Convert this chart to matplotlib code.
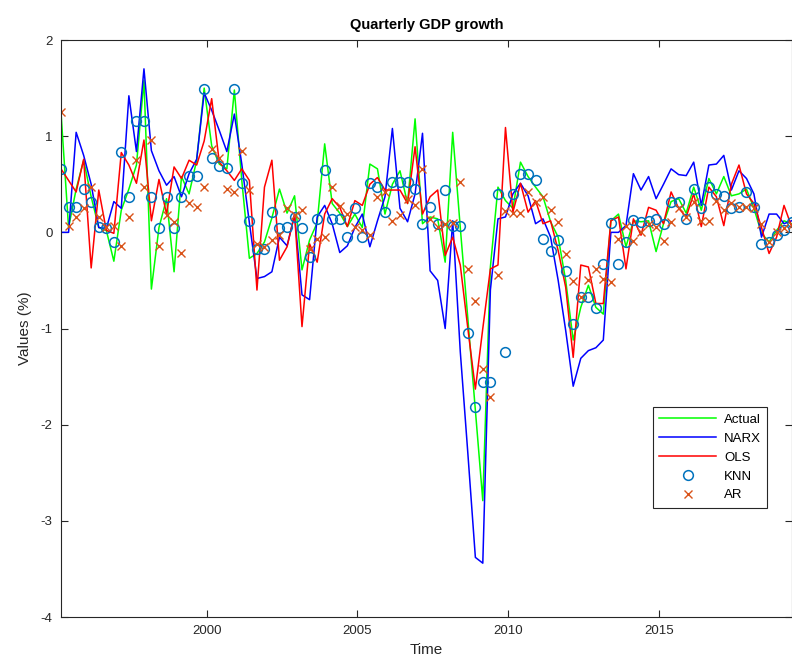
import numpy as np
import pandas as pd
import matplotlib
matplotlib.use("Agg")
import matplotlib.pyplot as plt
import matplotlib.dates as mdates

plt.rcParams['font.family'] = ['Liberation Sans', 'DejaVu Sans']
plt.rcParams['axes.unicode_minus'] = False

# quarterly dates (98 quarters)
dates = pd.date_range('1995-03-01', periods=98, freq='QS-MAR')

actual = [
    1.25, 0.05, 0.45, 0.75, 0.37, 0.05, 0.02, -0.30, 0.23, 0.45,
    0.70, 1.58, -0.59, 0.05, 0.35, -0.41, 0.58, 0.40, 0.75, 1.50,
    0.90, 0.71, 0.66, 1.48, 0.54, -0.27, -0.22, -0.10, 0.15, 0.45,
    0.20, 0.38, -0.39, -0.08, 0.10, 0.92, 0.30, 0.20, 0.06, 0.19,
    0.05, 0.71, 0.66, 0.19, 0.50, 0.64, 0.30, 1.18, 0.09, 0.16,
    0.14, -0.31, 1.04, 0.05, -0.90, -1.85, -2.79, -0.36, 0.47, 0.33,
    0.25, 0.73, 0.58, 0.47, 0.37, 0.11, -0.05, -0.50, -1.12, -0.78,
    -0.55, -0.78, -0.85, 0.12, 0.19, -0.15, 0.12, 0.11, 0.12, -0.20,
    0.09, 0.32, 0.35, 0.20, 0.47, 0.23, 0.56, 0.40, 0.58, 0.38,
    0.40, 0.45, 0.25, -0.01, -0.10, 0.02, 0.12, 0.09]

narx = [
    0.00, 0.00, 1.04, 0.80, 0.50, 0.05, 0.04, 0.32, 0.25, 1.42,
    0.84, 1.70, 0.85, 0.64, 0.49, 0.58, 0.37, 0.61, 0.76, 1.45,
    1.27, 1.06, 0.84, 1.23, 0.71, 0.10, -0.48, -0.46, -0.41, -0.05,
    -0.14, 0.18, -0.65, -0.70, 0.16, 0.28, 0.09, -0.21, -0.14, 0.05,
    0.19, -0.15, 0.12, 0.37, 1.08, 0.25, 0.11, 0.40, 1.03, -0.40,
    -0.50, -1.00, 0.12, -1.24, -2.30, -3.38, -3.44, -0.60, 0.14, 0.16,
    0.40, 0.51, 0.38, 0.09, 0.14, -0.05, -0.50, -1.02, -1.60, -1.31,
    -1.23, -1.20, -1.12, 0.00, 0.00, 0.07, 0.61, 0.44, 0.58, 0.35,
    0.50, 0.66, 0.60, 0.59, 0.73, 0.28, 0.70, 0.71, 0.80, 0.44,
    0.64, 0.56, 0.40, -0.05, 0.19, 0.19, 0.09, 0.12]

ols = [
    0.66, 0.54, 0.42, 0.76, -0.37, 0.44, 0.02, -0.01, 0.83, 0.70,
    0.51, 0.96, 0.12, 0.55, 0.19, 0.68, 0.56, 0.75, 0.70, 0.95,
    1.39, 0.73, 0.64, 0.54, 0.66, 0.54, -0.60, 0.47, 0.75, -0.29,
    -0.15, 0.19, -0.98, -0.12, -0.31, 0.19, 0.35, 0.26, 0.06, 0.33,
    0.28, 0.50, 0.57, 0.44, 0.44, 0.44, 0.30, 0.89, 0.19, 0.37,
    0.44, -0.24, -0.05, -0.34, -1.00, -1.63, -1.00, -0.38, -0.34, 1.09,
    0.21, 0.51, 0.21, 0.33, 0.09, 0.12, -0.19, -0.57, -1.30, -0.34,
    -0.36, -0.74, -0.74, 0.12, 0.16, -0.38, 0.14, -0.03, 0.26, 0.23,
    0.09, 0.42, 0.25, 0.16, 0.40, 0.06, 0.47, 0.37, 0.07, 0.50,
    0.70, 0.40, 0.30, 0.05, -0.22, -0.05, 0.28, 0.06]

knn = [
    0.66, 0.26, 0.26, 0.45, 0.32, 0.06, 0.04, -0.10, 0.84, 0.37,
    1.16, 1.16, 0.37, 0.04, 0.37, 0.04, 0.37, 0.59, 0.59, 1.49,
    0.77, 0.69, 0.67, 1.49, 0.51, 0.12, -0.17, -0.17, 0.21, 0.04,
    0.06, 0.16, 0.04, -0.26, 0.14, 0.65, 0.14, 0.14, -0.05, 0.25,
    -0.05, 0.51, 0.47, 0.21, 0.52, 0.52, 0.52, 0.45, 0.09, 0.26,
    0.09, 0.44, 0.07, 0.07, -1.05, -1.82, -1.56, -1.56, 0.40, -1.24,
    0.40, 0.61, 0.61, 0.54, -0.07, -0.19, -0.08, -0.40, -0.95, -0.67,
    -0.67, -0.79, -0.33, 0.10, -0.33, -0.10, 0.13, 0.11, 0.12, 0.14,
    0.09, 0.32, 0.32, 0.14, 0.45, 0.25, 0.47, 0.40, 0.38, 0.25,
    0.26, 0.42, 0.26, -0.12, -0.10, -0.03, 0.02, 0.11]

ar = [
    1.25, 0.07, 0.16, 0.25, 0.47, 0.16, 0.06, 0.07, -0.14, 0.16,
    0.75, 0.47, 0.96, -0.14, 0.18, 0.11, -0.21, 0.30, 0.26, 0.47,
    0.87, 0.77, 0.45, 0.42, 0.85, 0.44, -0.12, -0.15, -0.08, -0.03,
    0.25, 0.18, 0.23, -0.17, -0.07, -0.05, 0.47, 0.27, 0.19, 0.06,
    0.02, -0.03, 0.37, 0.42, 0.12, 0.18, 0.35, 0.28, 0.66, 0.14,
    0.06, 0.09, 0.10, 0.52, -0.38, -0.71, -1.42, -1.71, -0.44, 0.22,
    0.20, 0.20, 0.42, 0.32, 0.37, 0.23, 0.11, -0.23, -0.51, -0.67,
    -0.50, -0.38, -0.48, -0.52, -0.07, 0.07, -0.09, 0.00, 0.09, 0.06,
    -0.09, 0.11, 0.25, 0.16, 0.32, 0.12, 0.12, 0.33, 0.23, 0.30,
    0.26, 0.26, 0.25, 0.09, -0.10, 0.00, 0.05, 0.08]

fig = plt.figure(figsize=(7.92, 6.69), dpi=100)
ax = fig.add_axes([0.077, 0.0777, 0.9225, 0.8625])

ax.plot(dates, actual, color=(0, 1, 0), lw=1.1, label='Actual')
ax.plot(dates, narx, color=(0, 0, 1), lw=1.1, label='NARX')
ax.plot(dates, ols, color=(1, 0, 0), lw=1.1, label='OLS')
ax.plot(dates, knn, 'o', ms=7, mfc='none', mec=(0, 0.447, 0.741), mew=1.1, label='KNN')
ax.plot(dates, ar, 'x', ms=5.5, mec=(0.85, 0.325, 0.098), mew=1.0, label='AR')

ax.set_xlim(dates[0], dates[-1])
ax.set_ylim(-4, 2)
ax.set_yticks(range(-4, 3))
ax.xaxis.set_major_locator(mdates.YearLocator(5))
ax.xaxis.set_major_formatter(mdates.DateFormatter('%Y'))

dark = (0.15, 0.15, 0.15)
for s in ax.spines.values():
    s.set_color(dark)
    s.set_linewidth(0.8)
ax.tick_params(direction='in', length=5, width=0.8, colors=dark,
               top=True, right=True, labelsize=9.5, pad=6)

ax.set_title('Quarterly GDP growth', fontsize=10.5, fontweight='bold', pad=8)
ax.set_xlabel('Time', fontsize=11, color=dark, labelpad=4)
ax.set_ylabel('Values (%)', fontsize=11, color=dark, labelpad=6)

leg = ax.legend(loc='lower right', bbox_to_anchor=(0.967, 0.189), borderaxespad=0,
                fontsize=9.5, fancybox=False, framealpha=1, edgecolor=dark,
                handlelength=4.3, labelspacing=0.5, borderpad=0.5, handletextpad=0.6)
leg.get_frame().set_linewidth(0.8)

fig.savefig('out.png', dpi=100)
